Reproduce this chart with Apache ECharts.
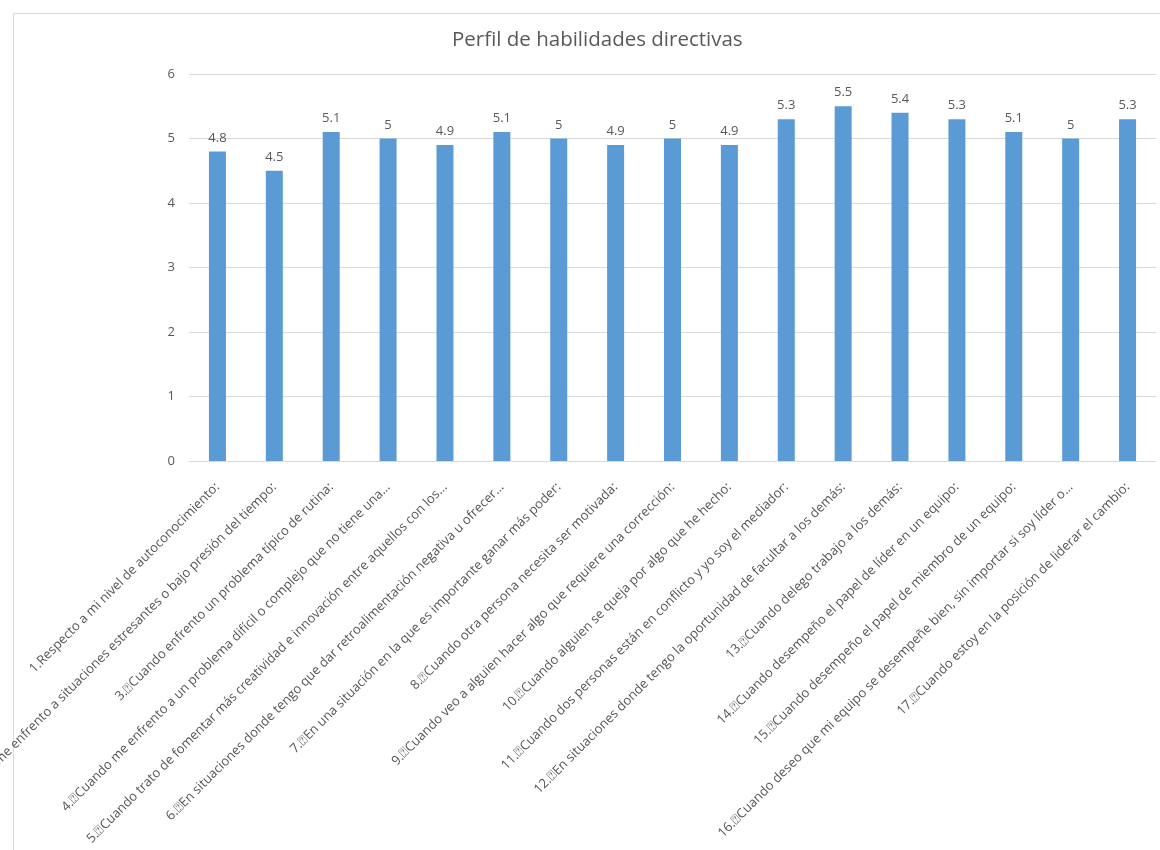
<!DOCTYPE html>
<html>
<head>
<meta charset="utf-8">
<script src="https://cdn.jsdelivr.net/npm/echarts@6/dist/echarts.min.js"></script>
<style>html,body{margin:0;padding:0;background:#fff}#c{width:1160px;height:850px}</style>
</head>
<body>
<div id="c"></div>
<script>
const B = "\u2370";
const categories = [
  "1.Respecto a mi nivel de autoconocimiento:",
  "2." + B + "Cuando me enfrento a situaciones estresantes o bajo presión del tiempo:",
  "3." + B + "Cuando enfrento un problema típico de rutina:",
  "4." + B + "Cuando me enfrento a un problema difícil o complejo que no tiene una…",
  "5." + B + "Cuando trato de fomentar más creatividad e innovación entre aquellos con los…",
  "6." + B + "En situaciones donde tengo que dar retroalimentación negativa u ofrecer…",
  "7." + B + "En una situación en la que es importante ganar más poder:",
  "8." + B + "Cuando otra persona necesita ser motivada:",
  "9." + B + "Cuando veo a alguien hacer algo que requiere una corrección:",
  "10." + B + "Cuando alguien se queja por algo que he hecho:",
  "11." + B + "Cuando dos personas están en conflicto y yo soy el mediador:",
  "12." + B + "En situaciones donde tengo la oportunidad de facultar a los demás:",
  "13." + B + "Cuando delego trabajo a los demás:",
  "14." + B + "Cuando desempeño el papel de líder en un equipo:",
  "15." + B + "Cuando desempeño el papel de miembro de un equipo:",
  "16." + B + "Cuando deseo que mi equipo se desempeñe bien, sin importar si soy líder o…",
  "17." + B + "Cuando estoy en la posición de liderar el cambio:"
];
const values = [4.8, 4.5, 5.1, 5, 4.9, 5.1, 5, 4.9, 5, 4.9, 5.3, 5.5, 5.4, 5.3, 5.1, 5, 5.3];
const yTicks = [0, 1, 2, 3, 4, 5, 6];
const titleText = "Perfil de habilidades directivas";

const chart = echarts.init(document.getElementById('c'), null, {renderer: 'canvas'});
const font = "'Open Sans', 'DejaVu Sans', sans-serif";
chart.setOption({
  animation: false,
  backgroundColor: '#ffffff',
  textStyle: {fontFamily: font},
  graphic: [{
    type: 'rect', left: 11, top: 11,
    shape: {width: 1170, height: 870},
    style: {fill: 'none', stroke: '#d9d9d9', lineWidth: 1}
  }],
  title: {
    text: titleText, left: 447, top: 25,
    textStyle: {fontFamily: font, fontSize: 20.5, fontWeight: 'normal', color: '#595959'}
  },
  grid: {left: 189, right: 4, top: 74, bottom: 389, containLabel: false, outerBoundsMode: 'none'},
  xAxis: {
    type: 'category', data: categories,
    axisLine: {show: true, lineStyle: {color: '#d9d9d9'}},
    axisTick: {show: false},
    axisLabel: {rotate: 45, interval: 0, margin: 24, fontSize: 13, color: '#555555', fontFamily: font}
  },
  yAxis: {
    type: 'value', min: yTicks[0], max: yTicks[yTicks.length - 1], interval: 1,
    axisLine: {show: false}, axisTick: {show: false},
    splitLine: {lineStyle: {color: '#d9d9d9'}},
    axisLabel: {fontSize: 13, color: '#595959', margin: 14, fontFamily: font}
  },
  series: [{
    type: 'bar', data: values, barWidth: 17,
    itemStyle: {color: '#5b9bd5'},
    label: {show: true, position: 'top', distance: 7, fontSize: 13, color: '#595959', fontFamily: font}
  }]
});
</script>
</body>
</html>
